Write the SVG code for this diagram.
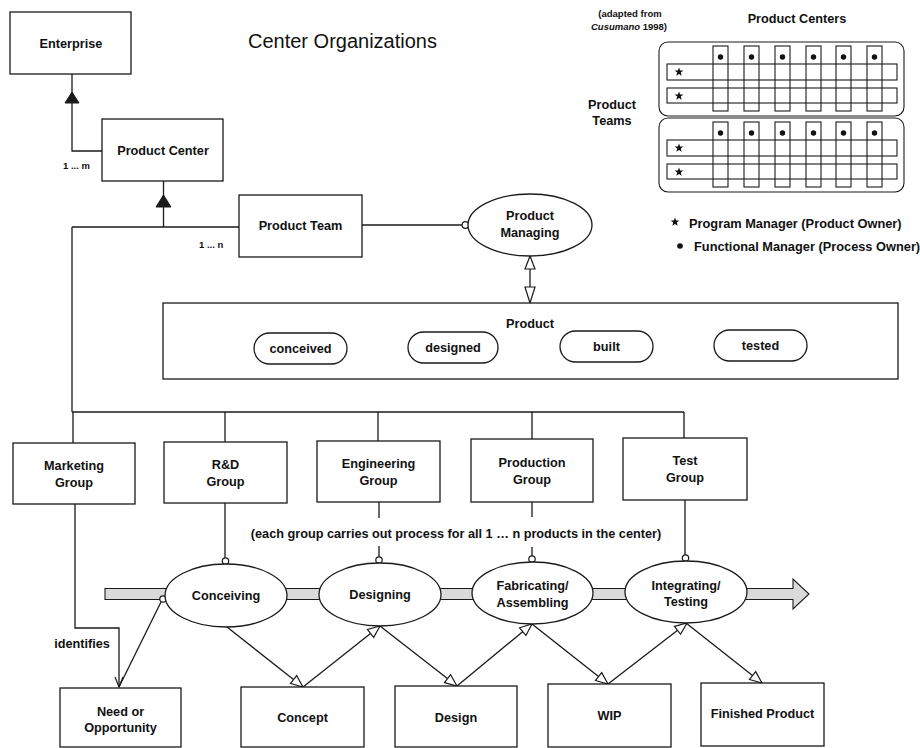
<svg xmlns="http://www.w3.org/2000/svg" width="920" height="748" viewBox="0 0 920 748">
  <style>
    .box { fill: #fff; stroke: #1a1a1a; stroke-width: 1.3; }
    .ell { fill: #fff; stroke: #1a1a1a; stroke-width: 1.3; }
    .pill { fill: #fff; stroke: #1a1a1a; stroke-width: 1.3; }
    .ln { fill: none; stroke: #1a1a1a; stroke-width: 1.3; }
    .thin { fill: none; stroke: #1a1a1a; stroke-width: 1.1; }
    .lol { fill: #fff; stroke: #1a1a1a; stroke-width: 1.2; }
    .tri { fill: #1a1a1a; stroke: #1a1a1a; stroke-width: 1; }
    .htri { fill: #fff; stroke: #1a1a1a; stroke-width: 1.2; }
    .lbl { font-family: "Liberation Sans", Arial, sans-serif; font-weight: bold; font-size: 12.7px; text-anchor: middle; fill: #111; }
    .sm { font-family: "Liberation Sans", Arial, sans-serif; font-weight: bold; font-size: 9.5px; fill: #111; }
    .lg { font-family: "Liberation Sans", Arial, sans-serif; font-weight: bold; font-size: 12.8px; fill: #111; }
    .title { font-family: "Liberation Sans", Arial, sans-serif; font-size: 20px; fill: #111; }
  </style>
  <defs>
    <marker id="hollow" viewBox="0 0 14 12" refX="13" refY="6" markerWidth="14" markerHeight="12" markerUnits="userSpaceOnUse" orient="auto">
      <path d="M1,1 L13,6 L1,11 Z" fill="#fff" stroke="#1a1a1a" stroke-width="1.2"/>
    </marker>
    <marker id="vee" viewBox="0 0 12 10" refX="11" refY="5" markerWidth="12" markerHeight="10" markerUnits="userSpaceOnUse" orient="auto">
      <path d="M1,1 L11,5 L1,9" fill="none" stroke="#1a1a1a" stroke-width="1.2"/>
    </marker>
    <polygon id="star" points="0,-4.6 1.12,-1.54 4.37,-1.42 1.81,0.59 2.70,3.72 0,1.9 -2.70,3.72 -1.81,0.59 -4.37,-1.42 -1.12,-1.54" fill="#111"/>
    <!-- one product center: two team rows crossed by six functional columns -->
    <g id="center">
      <rect x="659" y="42" width="245" height="74" rx="9" class="thin"/>
      <rect x="667" y="64" width="230" height="16" class="thin"/>
      <rect x="667" y="88" width="230" height="15" class="thin"/>
      <rect x="713" y="46" width="15" height="65" class="thin"/>
      <rect x="744" y="46" width="15" height="65" class="thin"/>
      <rect x="775" y="46" width="15" height="65" class="thin"/>
      <rect x="806" y="46" width="15" height="65" class="thin"/>
      <rect x="836" y="46" width="15" height="65" class="thin"/>
      <rect x="867" y="46" width="15" height="65" class="thin"/>
      <circle cx="720.5" cy="57" r="2.7" fill="#111"/>
      <circle cx="751.5" cy="57" r="2.7" fill="#111"/>
      <circle cx="782.5" cy="57" r="2.7" fill="#111"/>
      <circle cx="813.5" cy="57" r="2.7" fill="#111"/>
      <circle cx="843.5" cy="57" r="2.7" fill="#111"/>
      <circle cx="874.5" cy="57" r="2.7" fill="#111"/>
      <use href="#star" x="679" y="72"/>
      <use href="#star" x="679" y="96"/>
    </g>
  </defs>

  <rect width="920" height="748" fill="#fff"/>

  <text class="title" x="248" y="48">Center Organizations</text>

  <!-- process flow band behind the process ellipses -->
  <polygon id="flow-band" points="105,588.5 793,588.5 793,579 809,594 793,609 793,599.5 105,599.5" fill="#dadada" stroke="#1a1a1a" stroke-width="1.1"/>

  <!-- connectors -->
  <g id="connectors">
    <!-- Product Center to Enterprise -->
    <polyline class="ln" points="102,151 72,151 72,74"/>
    <polygon class="tri" points="72,92 65,103 79,103"/>
    <!-- Product Team to Product Center -->
    <line class="ln" x1="163.5" y1="181" x2="163.5" y2="227"/>
    <polygon class="tri" points="163.5,195 156,207 171,207"/>
    <line class="ln" x1="72" y1="227" x2="239" y2="227"/>
    <line class="ln" x1="72" y1="227" x2="72" y2="412"/>
    <!-- Product Team to Product Managing -->
    <line class="ln" x1="362" y1="225" x2="462" y2="225"/>
    <circle class="lol" cx="465.5" cy="225" r="3.4"/>
    <!-- Product Managing to Product -->
    <line class="ln" x1="530" y1="256" x2="530" y2="303"/>
    <polygon class="htri" points="530,256 525,269 535,269"/>
    <polygon class="htri" points="530,303 525,287 535,287"/>
    <!-- group bus -->
    <line class="ln" x1="72" y1="412" x2="684" y2="412"/>
    <line class="ln" x1="73" y1="412" x2="73" y2="443"/>
    <line class="ln" x1="225" y1="412" x2="225" y2="442"/>
    <line class="ln" x1="378" y1="412" x2="378" y2="441"/>
    <line class="ln" x1="532" y1="412" x2="532" y2="439"/>
    <line class="ln" x1="684" y1="412" x2="684" y2="438"/>
    <!-- groups to processes -->
    <line class="ln" x1="225" y1="503" x2="225" y2="558"/>
    <circle class="lol" cx="225.5" cy="561" r="3.2"/>
    <line class="ln" x1="379" y1="502" x2="379" y2="518"/>
    <line class="ln" x1="379" y1="546" x2="379" y2="557"/>
    <circle class="lol" cx="379" cy="560" r="3.2"/>
    <line class="ln" x1="532" y1="502" x2="532" y2="517"/>
    <line class="ln" x1="532" y1="547" x2="532" y2="556"/>
    <circle class="lol" cx="532" cy="559" r="3.2"/>
    <line class="ln" x1="685" y1="500" x2="685" y2="555"/>
    <circle class="lol" cx="685.5" cy="558" r="3.2"/>
    <!-- Marketing identifies need -->
    <polyline class="ln" points="75,504 75,628 119,628 119,687" marker-end="url(#vee)"/>
    <line class="ln" x1="161" y1="602" x2="119" y2="687"/>
    <circle class="lol" cx="163" cy="599" r="3.2"/>
    <!-- process inputs and outputs -->
    <line class="ln" x1="227" y1="627" x2="303" y2="687" marker-end="url(#hollow)"/>
    <line class="ln" x1="303" y1="687" x2="380" y2="626" marker-end="url(#hollow)"/>
    <line class="ln" x1="380" y1="626" x2="457" y2="686" marker-end="url(#hollow)"/>
    <line class="ln" x1="457" y1="686" x2="532" y2="624" marker-end="url(#hollow)"/>
    <line class="ln" x1="532" y1="624" x2="608" y2="684" marker-end="url(#hollow)"/>
    <line class="ln" x1="608" y1="684" x2="687" y2="623" marker-end="url(#hollow)"/>
    <line class="ln" x1="686" y1="623" x2="762" y2="683" marker-end="url(#hollow)"/>
  </g>

  <!-- organization nodes -->
  <g id="enterprise">
    <rect class="box" x="10" y="12" width="121" height="62"/>
    <text class="lbl" x="71" y="47.5">Enterprise</text>
  </g>
  <g id="product-center">
    <rect class="box" x="102" y="119" width="121" height="62"/>
    <text class="lbl" x="163" y="154.5">Product Center</text>
    <text class="sm" x="63" y="168.5">1 ... m</text>
  </g>
  <g id="product-team">
    <rect class="box" x="239" y="195" width="123" height="62"/>
    <text class="lbl" x="300.5" y="230">Product Team</text>
    <text class="sm" x="199" y="247.5">1 ... n</text>
  </g>
  <g id="product-managing">
    <ellipse class="ell" cx="530" cy="225" rx="62" ry="31"/>
    <text class="lbl" x="530" y="219.5">Product</text>
    <text class="lbl" x="530" y="236.5">Managing</text>
  </g>
  <g id="product">
    <rect class="box" x="163" y="303" width="735" height="76"/>
    <text class="lbl" x="530" y="327.5">Product</text>
    <rect class="pill" x="254" y="333" width="93" height="31" rx="15.5"/>
    <text class="lbl" x="300.5" y="352.5">conceived</text>
    <rect class="pill" x="408" y="332" width="90" height="31" rx="15.5"/>
    <text class="lbl" x="453" y="351.5">designed</text>
    <rect class="pill" x="560" y="331" width="93" height="31" rx="15.5"/>
    <text class="lbl" x="606.5" y="350.5">built</text>
    <rect class="pill" x="714" y="330" width="93" height="31" rx="15.5"/>
    <text class="lbl" x="760.5" y="349.5">tested</text>
  </g>

  <!-- functional groups -->
  <g id="marketing-group">
    <rect class="box" x="13" y="443" width="122" height="61"/>
    <text class="lbl" x="74" y="469.5">Marketing</text>
    <text class="lbl" x="74" y="486.5">Group</text>
  </g>
  <g id="rd-group">
    <rect class="box" x="164" y="442" width="123" height="61"/>
    <text class="lbl" x="225.5" y="468.5">R&amp;D</text>
    <text class="lbl" x="225.5" y="486">Group</text>
  </g>
  <g id="engineering-group">
    <rect class="box" x="317" y="441" width="123" height="61"/>
    <text class="lbl" x="378.5" y="467.5">Engineering</text>
    <text class="lbl" x="378.5" y="484.5">Group</text>
  </g>
  <g id="production-group">
    <rect class="box" x="471" y="439" width="122" height="63"/>
    <text class="lbl" x="532" y="466.5">Production</text>
    <text class="lbl" x="532" y="483.5">Group</text>
  </g>
  <g id="test-group">
    <rect class="box" x="623" y="438" width="124" height="62"/>
    <text class="lbl" x="685" y="464.5">Test</text>
    <text class="lbl" x="685" y="482">Group</text>
  </g>
  <text class="lbl" x="456" y="537.5">(each group carries out process for all 1 … n products in the center)</text>

  <!-- processes -->
  <g id="conceiving">
    <ellipse class="ell" cx="226" cy="595.5" rx="61" ry="31.5"/>
    <text class="lbl" x="226" y="599.5">Conceiving</text>
  </g>
  <g id="designing">
    <ellipse class="ell" cx="380" cy="594.5" rx="61" ry="31.5"/>
    <text class="lbl" x="380" y="598.5">Designing</text>
  </g>
  <g id="fabricating">
    <ellipse class="ell" cx="532.5" cy="593" rx="60.5" ry="31"/>
    <text class="lbl" x="532.5" y="589.5">Fabricating/</text>
    <text class="lbl" x="532.5" y="606.5">Assembling</text>
  </g>
  <g id="integrating">
    <ellipse class="ell" cx="686" cy="592" rx="61" ry="31"/>
    <text class="lbl" x="686" y="589.5">Integrating/</text>
    <text class="lbl" x="686" y="605.5">Testing</text>
  </g>
  <text class="lbl" x="82" y="647.5">identifies</text>

  <!-- work products -->
  <g id="need">
    <rect class="box" x="60" y="688" width="121" height="59"/>
    <text class="lbl" x="120.5" y="715.5">Need or</text>
    <text class="lbl" x="120.5" y="731.5">Opportunity</text>
  </g>
  <g id="concept">
    <rect class="box" x="241" y="687" width="123" height="60"/>
    <text class="lbl" x="302.5" y="721.5">Concept</text>
  </g>
  <g id="design">
    <rect class="box" x="395" y="686" width="122" height="61"/>
    <text class="lbl" x="456" y="721.5">Design</text>
  </g>
  <g id="wip">
    <rect class="box" x="548" y="684" width="123" height="63"/>
    <text class="lbl" x="609.5" y="719.5">WIP</text>
  </g>
  <g id="finished-product">
    <rect class="box" x="701" y="683" width="123" height="63"/>
    <text class="lbl" x="762.5" y="718">Finished Product</text>
  </g>

  <!-- matrix organization inset -->
  <g id="matrix-inset">
    <text class="sm" x="630" y="16.5" text-anchor="middle">(adapted from</text>
    <text class="sm" x="629" y="29.5" text-anchor="middle"><tspan font-style="italic">Cusumano</tspan> 1998)</text>
    <text class="lbl" x="797" y="22.5">Product Centers</text>
    <text class="lbl" x="612" y="108.5">Product</text>
    <text class="lbl" x="612" y="124.5">Teams</text>
    <use href="#center"/>
    <use href="#center" y="76"/>
  </g>
  <g id="legend">
    <use href="#star" x="675" y="222"/>
    <text class="lg" x="689" y="227.5">Program Manager (Product Owner)</text>
    <circle cx="680" cy="246" r="2.8" fill="#111"/>
    <text class="lg" x="694" y="250.5">Functional Manager (Process Owner)</text>
  </g>
</svg>
